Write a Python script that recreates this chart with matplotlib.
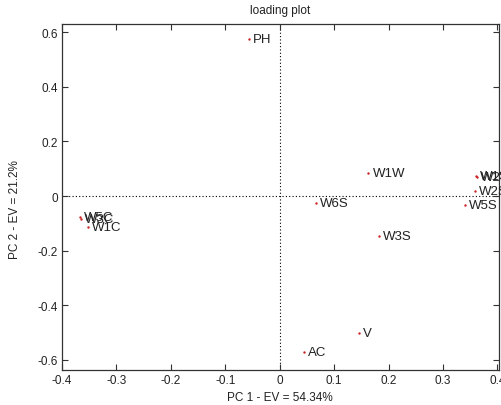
import matplotlib
matplotlib.use("Agg")
import matplotlib.pyplot as plt

plt.rcParams['font.family'] = ['Liberation Sans', 'DejaVu Sans']

labels = ["PH", "W1W", "W1S", "W2W", "W2S", "W5S", "W6S", "W3S",
          "W5C", "W3C", "W1C", "V", "AC"]
pc1 = [-0.057, 0.163, 0.360, 0.362, 0.358, 0.341, 0.066, 0.182,
       -0.367, -0.366, -0.352, 0.145, 0.044]
pc2 = [0.575, 0.084, 0.073, 0.071, 0.018, -0.033, -0.026, -0.147,
       -0.077, -0.083, -0.114, -0.500, -0.571]

xticks = [-0.4, -0.3, -0.2, -0.1, 0, 0.1, 0.2, 0.3, 0.4]
xticklabels = ["-0.4", "-0.3", "-0.2", "-0.1", "0", "0.1", "0.2", "0.3", "0.4"]
yticks = [-0.6, -0.4, -0.2, 0, 0.2, 0.4, 0.6]
yticklabels = ["-0.6", "-0.4", "-0.2", "0", "0.2", "0.4", "0.6"]

fig = plt.figure(figsize=(5.02, 4.06), dpi=100)
ax = fig.add_axes([62/502, 1-371/406, (499-62)/502, (371-25)/406])

ax.axhline(0, color='black', linestyle=(0, (1, 2)), linewidth=0.8, zorder=1)
ax.axvline(0, color='black', linestyle=(0, (1, 2)), linewidth=0.8, zorder=1)

ax.scatter(pc1, pc2, s=3, color='#cc2222', zorder=3, linewidths=0)
for lab, x, y in zip(labels, pc1, pc2):
    ax.annotate(lab, (x, y), xytext=(3, 0), textcoords='offset points',
                ha='left', va='center', fontsize=9.5, color='#222222',
                annotation_clip=False)

ax.set_xlim(-0.4, 0.403)
ax.set_ylim(-0.637, 0.63)
ax.set_xticks(xticks)
ax.set_xticklabels(xticklabels)
ax.set_yticks(yticks)
ax.set_yticklabels(yticklabels)
ax.tick_params(direction='in', top=True, right=True, labelsize=8.5,
               length=4, color='#333333', labelcolor='#222222', pad=3)
for s in ax.spines.values():
    s.set_color('#333333')
    s.set_linewidth(0.9)

ax.set_title("loading plot", fontsize=8.5, color='#222222', pad=8)
ax.set_xlabel("PC 1 - EV = 54.34%", fontsize=8.5, color='#222222')
ax.set_ylabel("PC 2 - EV = 21.2%", fontsize=8.5, color='#222222')
ax.xaxis.set_label_coords((280-62)/437, (371-398)/346)
ax.yaxis.set_label_coords((15-62)/437, (371-210)/346)
ax.xaxis.label.set_va('center')
ax.yaxis.label.set_va('center')

fig.savefig("out.png", dpi=100)
